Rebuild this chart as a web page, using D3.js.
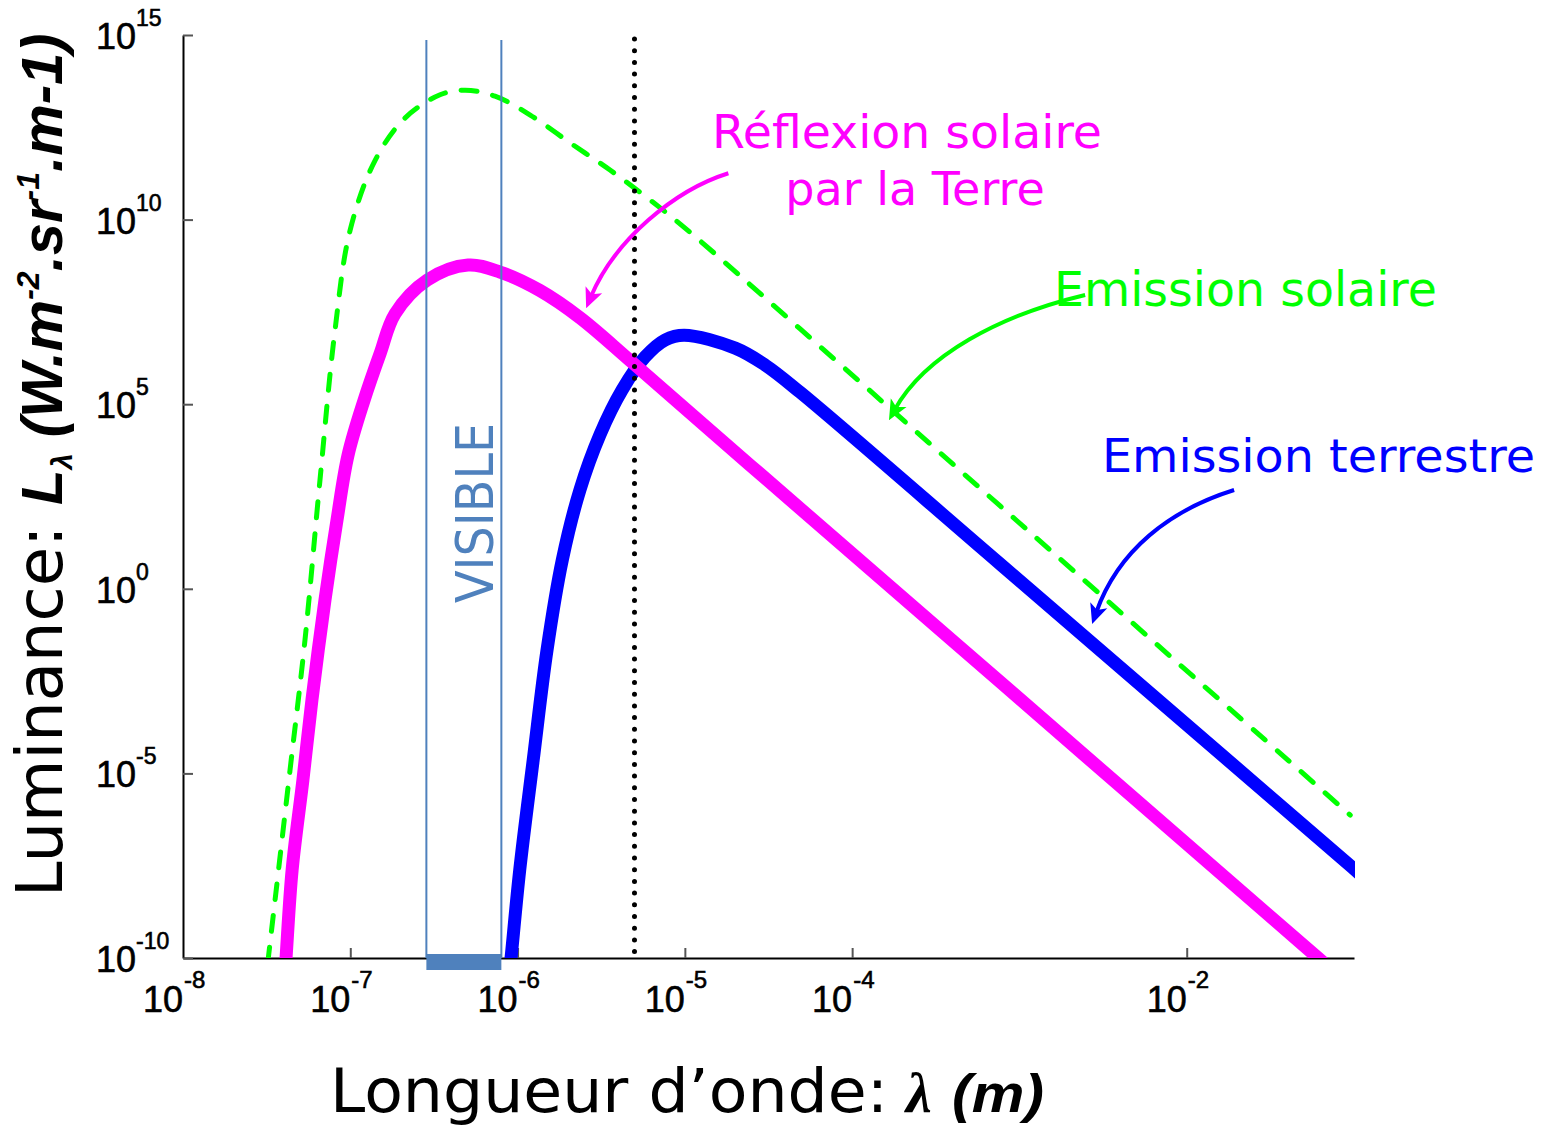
<!DOCTYPE html>
<html>
<head>
<meta charset="utf-8">
<title>Luminance spectrale</title>
<style>
	body {
		margin: 0;
		background: #fff;
	}
	svg {
		display: block;
		font-family: "DejaVu Sans", sans-serif;
	}
	.axis path.domain {
		stroke: #000;
		stroke-width: 2;
	}
	.axis .tick line {
		stroke: #555;
		stroke-width: 2;
	}
	.tick-label {
		font-family: "Liberation Sans", Arial, sans-serif;
		fill: #000;
		stroke: #000;
		stroke-width: 0.6px;
	}
	.curve {
		fill: none;
		stroke-linejoin: round;
	}
</style>
<script src="https://d3js.org/d3.v7.min.js"></script>
</head>
<body>
<svg id="chart" width="1552" height="1127"></svg>
<script>
	// wavelengths (m) and luminances
	var lambdaSolar = [3.05e-8, 3.55e-8, 4.36e-8, 5.36e-8, 6.59e-8, 8.1e-8, 9.98e-8, 1.41e-7, 2.12e-7, 3.44e-7, 4.86e-7, 7.33e-7, 1.19e-6, 2.06e-6, 3.57e-6, 6.2e-6, 1.07e-5, 4.89e-5, 7.67e-4, 9.5e-2];
	var lumSolar = [1e-11, 3.7e-9, 1.2e-5, 4.1e-2, 890, 1.0e7, 5.2e9, 4.1e11, 5.6e12, 2.4e13, 3.2e13, 2.2e13, 6.8e12, 1.2e12, 2.2e11, 3.4e10, 4.6e9, 1.09e7, 175, 7.4e-7];

	var lambdaReflect = [3.99e-8, 4.13e-8, 4.49e-8, 5.21e-8, 5.9e-8, 7.06e-8, 8.33e-8, 9.7e-8, 1.21e-7, 1.51e-7, 1.85e-7, 2.88e-7, 5.06e-7, 7.86e-7, 1.36e-6, 2.36e-6, 4.9e-6, 2.45e-5, 7.67e-4, 6.1e-2, 0.11];
	var lumReflect = [1e-11, 1e-10, 2.4e-8, 6.6e-6, 9.8e-4, 0.5, 73, 4200, 1.3e5, 2.4e6, 2.8e7, 2.3e8, 5.9e8, 3.8e8, 1.2e8, 2.2e7, 1.3e6, 2250, 3.0e-3, 1e-10, 1e-11];

	var lambdaEarth = [8.65e-7, 9.14e-7, 1.03e-6, 1.24e-6, 1.5e-6, 1.85e-6, 2.36e-6, 3.11e-6, 4.21e-6, 5.78e-6, 7.62e-6, 9.9e-6, 2.0e-5, 3.02e-5, 4.89e-5, 7.67e-4, 9.8e-2, 0.144];
	var lumEarth = [1e-11, 1e-10, 2.4e-8, 2.3e-5, 0.022, 6.0, 480, 1.5e4, 2.4e5, 1.9e6, 5.5e6, 7.4e6, 3.3e6, 1.15e6, 2.1e5, 4.7, 2.8e-8, 6.2e-9];

	var visibleRange = [2.85e-7, 8e-7];
	var markerLambda = 5e-6;

	var xTicks = [1e-7, 1e-6, 1e-5, 1e-4, 1e-2];
	var xLabels = [1e-8, 1e-7, 1e-6, 1e-5, 1e-4, 1e-2];
	var yTicks = [1e15, 1e10, 1e5, 1, 1e-5, 1e-10];

	// arrows: start, control 1, control 2, tip (lambda, luminance)
	var arrowReflect = [[1.82e-5, 1.8e11], [8.7e-6, 6.3e10], [3.8e-6, 2.8e9], [2.57e-6, 4.0e7]];
	var arrowSolar = [[2.47e-3, 9.1e7], [7.7e-4, 2.6e7], [2.73e-4, 2.15e6], [1.66e-4, 3.7e4]];
	var arrowEarth = [[1.92e-2, 474], [7.96e-3, 136], [3.89e-3, 11.2], [2.72e-3, 0.111]];

	var svg = d3.select("#chart");

	var margin = {top: 35, right: 198, bottom: 169, left: 183},
		width = 1552 - margin.left - margin.right,
		height = 1127 - margin.top - margin.bottom;

	var x = d3.scaleLog().domain([1e-8, 1e-1]).range([0, width]),
		y = d3.scaleLog().domain([1e-10, 1e15]).range([height, 0]);

	var defs = svg.append("defs");
	defs.append("clipPath").attr("id", "plot-clip")
		.append("rect")
			.attr("x", 0).attr("y", 0)
			.attr("width", width + 1).attr("height", height);

	[["arr-m", "#ff00ff"], ["arr-g", "#00ff00"], ["arr-b", "#0000ff"]].forEach(function(m) {
		defs.append("marker")
			.attr("id", m[0])
			.attr("viewBox", "0 -10 20 20")
			.attr("refX", 8).attr("refY", 0)
			.attr("markerWidth", 20).attr("markerHeight", 20)
			.attr("markerUnits", "userSpaceOnUse")
			.attr("orient", "auto")
		.append("path")
			.attr("d", "M0,-9L20,0L0,9L5,0Z")
			.attr("fill", m[1]);
	});

	var g = svg.append("g")
		.attr("transform", "translate(" + margin.left + "," + margin.top + ")");

	// axes
	g.append("g")
		.attr("class", "axis")
		.attr("transform", "translate(0," + height + ")")
		.call(d3.axisBottom(x).tickValues(xTicks).tickSizeInner(-10).tickSizeOuter(0).tickFormat(""));

	g.append("g")
		.attr("class", "axis")
		.call(d3.axisLeft(y).tickValues(yTicks).tickSizeInner(-10).tickSizeOuter(0).tickFormat(""));

	function expo(v) { return String(Math.round(Math.log10(v))); }

	xLabels.forEach(function(t) {
		g.append("text").attr("class", "tick-label")
			.attr("x", x(t)).attr("y", height + 54)
			.attr("text-anchor", "end")
			.style("font-size", "36px")
			.text("10");
		g.append("text").attr("class", "tick-label")
			.attr("x", x(t) + 1).attr("y", height + 30)
			.style("font-size", "24px")
			.text(expo(t));
	});

	yTicks.forEach(function(t) {
		var lab = g.append("text").attr("class", "tick-label")
			.attr("x", -87).attr("y", y(t) + 14)
			.style("font-size", "36px")
			.text("10");
		lab.append("tspan")
			.attr("dy", -23)
			.style("font-size", "23px")
			.text(expo(t));
	});

	// curves
	var line = d3.line()
		.x(function(d) { return x(d[0]); })
		.y(function(d) { return y(d[1]); })
		.curve(d3.curveCatmullRom.alpha(0.5));

	var curves = g.append("g").attr("clip-path", "url(#plot-clip)");

	curves.append("path")
		.attr("class", "curve")
		.attr("d", line(d3.zip(lambdaEarth, lumEarth)))
		.attr("stroke", "#0000ff")
		.attr("stroke-width", 13);

	curves.append("path")
		.attr("class", "curve")
		.attr("d", line(d3.zip(lambdaReflect, lumReflect)))
		.attr("stroke", "#ff00ff")
		.attr("stroke-width", 13);

	curves.append("path")
		.attr("class", "curve")
		.attr("d", line(d3.zip(lambdaSolar, lumSolar)))
		.attr("stroke", "#00ff00")
		.attr("stroke-width", 5)
		.attr("stroke-linecap", "round")
		.attr("stroke-dasharray", "16 16");

	// visible band
	visibleRange.forEach(function(v) {
		g.append("line")
			.attr("x1", x(v)).attr("x2", x(v))
			.attr("y1", 5).attr("y2", height)
			.attr("stroke", "#4f81bd")
			.attr("stroke-width", 2);
	});

	g.append("rect")
		.attr("x", x(visibleRange[0]))
		.attr("y", height - 4)
		.attr("width", x(visibleRange[1]) - x(visibleRange[0]))
		.attr("height", 16)
		.attr("fill", "#4f81bd");

	g.append("text")
		.attr("transform", "translate(" + (x(visibleRange[1]) - 8) + ",568) rotate(-90)")
		.attr("textLength", 180)
		.attr("lengthAdjust", "spacingAndGlyphs")
		.style("font-size", "52px")
		.attr("fill", "#4f81bd")
		.text("VISIBLE");

	// dotted marker
	g.append("line")
		.attr("x1", x(markerLambda)).attr("x2", x(markerLambda))
		.attr("y1", 4).attr("y2", height - 4)
		.attr("stroke", "#000")
		.attr("stroke-width", 5)
		.attr("stroke-linecap", "round")
		.attr("stroke-dasharray", "0 11.7");

	// arrows
	function arrow(pts, color, id) {
		var p = pts.map(function(d) { return [x(d[0]), y(d[1])]; });
		var dx = p[3][0] - p[2][0], dy = p[3][1] - p[2][1], len = Math.hypot(dx, dy);
		var end = [p[3][0] - dx / len * 12, p[3][1] - dy / len * 12];
		g.append("path")
			.attr("d", "M" + p[0] + "C" + p[1] + " " + p[2] + " " + end)
			.attr("fill", "none")
			.attr("stroke", color)
			.attr("stroke-width", 4)
			.attr("marker-end", "url(#" + id + ")");
	}
	arrow(arrowReflect, "#ff00ff", "arr-m");
	arrow(arrowSolar, "#00ff00", "arr-g");
	arrow(arrowEarth, "#0000ff", "arr-b");

	// annotations
	svg.append("text").attr("x", 907).attr("y", 148)
		.attr("text-anchor", "middle").attr("fill", "#ff00ff")
		.attr("textLength", 390).attr("lengthAdjust", "spacingAndGlyphs")
		.style("font-size", "46px").text("Réflexion solaire");
	svg.append("text").attr("x", 915).attr("y", 205)
		.attr("text-anchor", "middle").attr("fill", "#ff00ff")
		.style("font-size", "46px").text("par la Terre");
	svg.append("text").attr("x", 1054).attr("y", 306)
		.attr("fill", "#00ff00")
		.attr("textLength", 383).attr("lengthAdjust", "spacingAndGlyphs")
		.style("font-size", "48px").text("Emission solaire");
	svg.append("text").attr("x", 1102).attr("y", 472)
		.attr("fill", "#0000ff")
		.attr("textLength", 433).attr("lengthAdjust", "spacingAndGlyphs")
		.style("font-size", "47px").text("Emission terrestre");

	// axis titles
	var bi = function(s) {
		return s.style("font-family", "'Liberation Sans', Arial, sans-serif")
			.style("font-weight", "bold").style("font-style", "italic");
	};

	var ylab = svg.append("text").attr("transform", "translate(62,897) rotate(-90)");
	ylab.append("tspan").style("font-size", "64px").text("Luminance: ");
	bi(ylab.append("tspan")).style("font-size", "58px").text("L");
	bi(ylab.append("tspan")).style("font-size", "29px").attr("dy", 10).text("λ");
	bi(ylab.append("tspan")).style("font-size", "58px").attr("dy", -10).text(" (W.m");
	bi(ylab.append("tspan")).style("font-size", "32px").attr("dy", -23).text("-2");
	bi(ylab.append("tspan")).style("font-size", "58px").attr("dy", 23).text(".sr");
	bi(ylab.append("tspan")).style("font-size", "32px").attr("dy", -23).text("-1");
	bi(ylab.append("tspan")).style("font-size", "58px").attr("dy", 23).text(".m-1)");

	svg.append("text").attr("x", 330).attr("y", 1112)
		.attr("textLength", 558).attr("lengthAdjust", "spacingAndGlyphs")
		.style("font-size", "61px").text("Longueur d\u2019onde:");
	svg.append("text").attr("x", 906).attr("y", 1112)
		.style("font-family", "'Liberation Serif', serif")
		.style("font-style", "italic").style("font-weight", "bold")
		.style("font-size", "58px").text("λ");
	bi(svg.append("text").attr("x", 952).attr("y", 1112))
		.attr("textLength", 92).attr("lengthAdjust", "spacingAndGlyphs")
		.style("font-size", "54px").text("(m)");
</script>
</body>
</html>
